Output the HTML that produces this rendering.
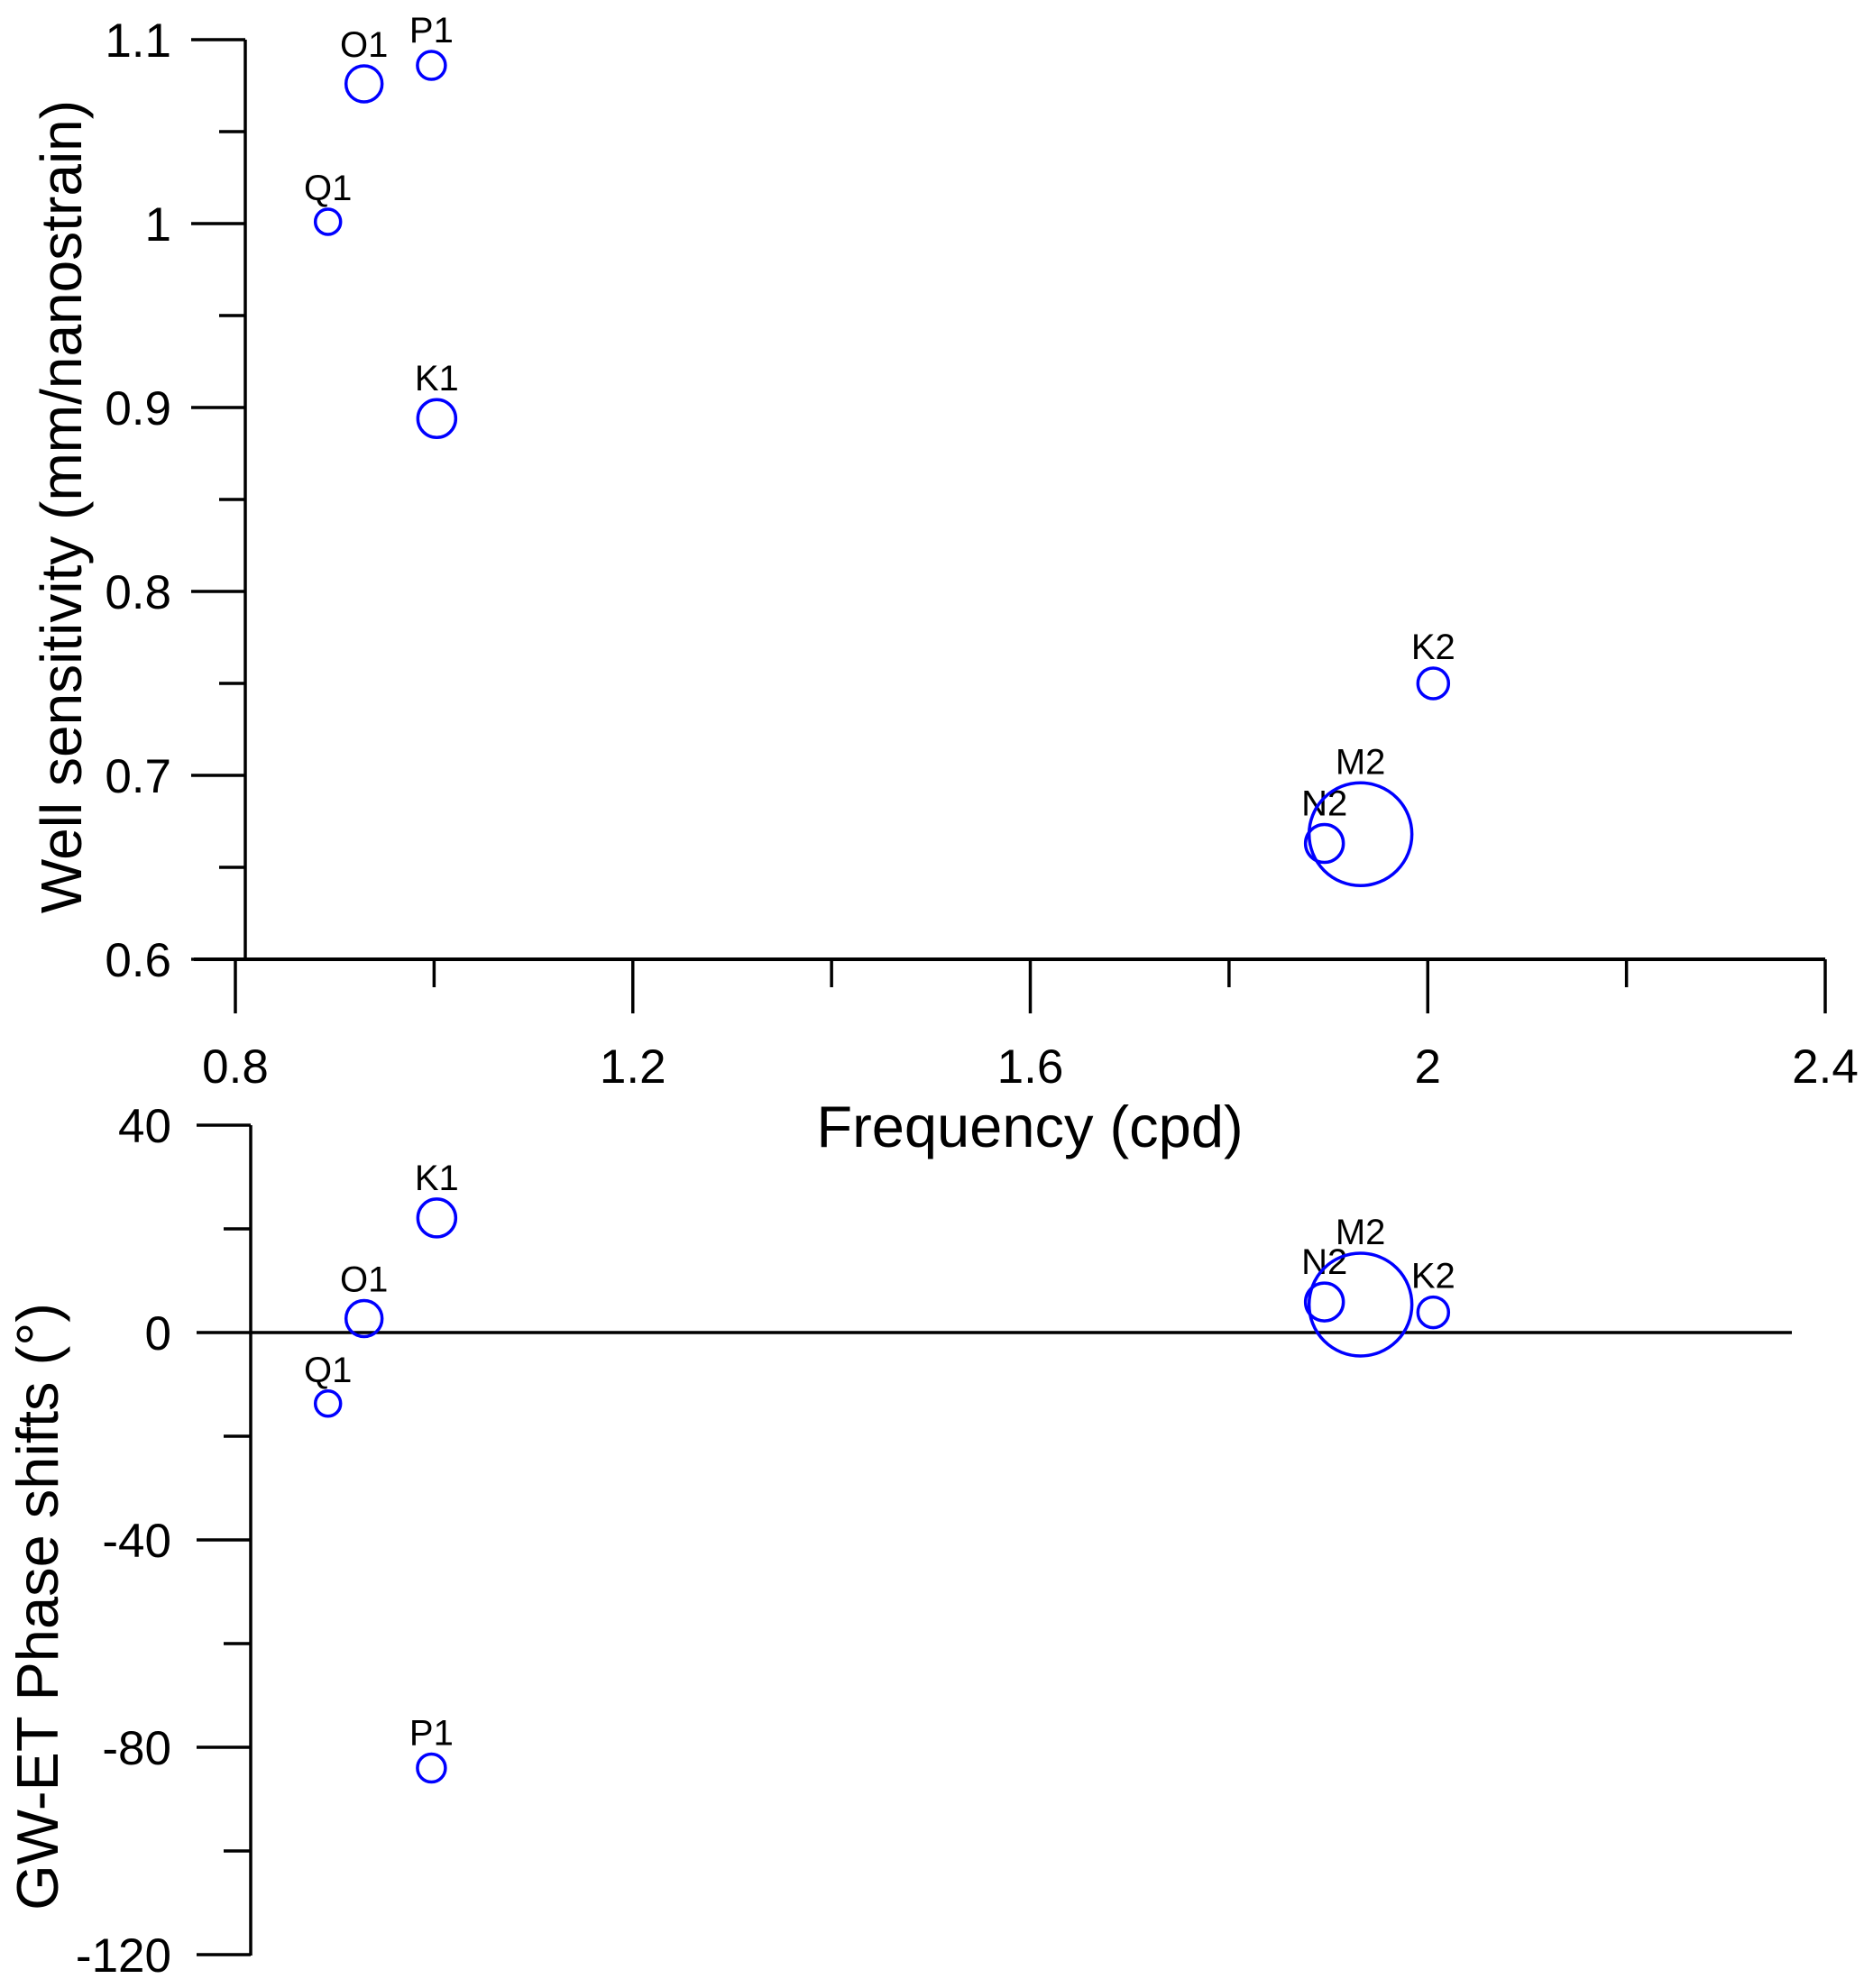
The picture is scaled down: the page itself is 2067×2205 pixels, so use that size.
<!DOCTYPE html>
<html><head><meta charset="utf-8"><style>
html,body{margin:0;padding:0;background:#fff;}
svg{display:block;font-family:"Liberation Sans",Arial,sans-serif;}
</style></head><body>
<svg id="chart" width="2067" height="2205" viewBox="0 0 2067 2205" xmlns="http://www.w3.org/2000/svg"></svg>
<script>
const constituents = ["Q1","O1","P1","K1","N2","M2","K2"];
const frequencies = [0.8932,0.9295,0.9973,1.0027,1.8960,1.9323,2.0055];
const sensitivity = [1.001,1.076,1.086,0.894,0.663,0.668,0.750];
const phaseShift = [-13.7,2.7,-84,22.1,5.9,5.4,3.9];
const radiusPx = [14,20,15.5,21,21,57,17];
const xTicks = [0.8,1.2,1.6,2.0,2.4];
const xTickLabels = ["0.8","1.2","1.6","2","2.4"];
const yTopTicks = [1.1,1.0,0.9,0.8,0.7,0.6];
const yTopTickLabels = ["1.1","1","0.9","0.8","0.7","0.6"];
const yBotTicks = [40,0,-40,-80,-120];
const yBotTickLabels = ["40","0","-40","-80","-120"];

const svg = document.getElementById('chart');
const NS = "http://www.w3.org/2000/svg";
function mk(tag, attrs, parent){const e=document.createElementNS(NS,tag);for(const k in attrs)e.setAttribute(k,attrs[k]);(parent||svg).appendChild(e);return e;}
const xS = v => 261 + (v-0.8)*(2024-261)/1.6;
const yT = v => 1064 - (v-0.6)*2040;
const yB = v => 1478 - v*5.75;
const SW = 3.5;

let g = mk('g',{});


mk('line',{x1:272,y1:44,x2:272,y2:1064,stroke:'#000','stroke-width':SW},g);
yTopTicks.forEach((v,i)=>{
  mk('line',{x1:212,y1:yT(v),x2:272,y2:yT(v),stroke:'#000','stroke-width':SW},g);
  const t=mk('text',{x:190,y:yT(v)+19,'text-anchor':'end','font-size':53},g);t.textContent=yTopTickLabels[i];
  if(i<yTopTicks.length-1) mk('line',{x1:243,y1:yT(v-0.05),x2:272,y2:yT(v-0.05),stroke:'#000','stroke-width':SW},g);
});
let tt = mk('text',{x:0,y:0,'text-anchor':'middle','font-size':64,transform:'translate(90,562) rotate(-90)'});


tt.textContent='Well sensitivity (mm/nanostrain)';

g = mk('g',{});


mk('line',{x1:215,y1:1064,x2:2024,y2:1064,stroke:'#000','stroke-width':4},g);
xTicks.forEach((v,i)=>{
  mk('line',{x1:xS(v),y1:1064,x2:xS(v),y2:1124,stroke:'#000','stroke-width':SW},g);
  const t=mk('text',{x:xS(v),y:1201,'text-anchor':'middle','font-size':53},g);t.textContent=xTickLabels[i];
  if(i<xTicks.length-1) mk('line',{x1:xS(v+0.2),y1:1064,x2:xS(v+0.2),y2:1095,stroke:'#000','stroke-width':SW},g);
});
tt = mk('text',{x:1142,y:1272,'text-anchor':'middle','font-size':65});


tt.textContent='Frequency (cpd)';

g = mk('g',{});


mk('line',{x1:278,y1:1248,x2:278,y2:2169,stroke:'#000','stroke-width':SW},g);
yBotTicks.forEach((v,i)=>{
  mk('line',{x1:218,y1:yB(v),x2:278,y2:yB(v),stroke:'#000','stroke-width':SW},g);
  const t=mk('text',{x:190,y:yB(v)+19,'text-anchor':'end','font-size':53},g);t.textContent=yBotTickLabels[i];
  if(i<yBotTicks.length-1) mk('line',{x1:248,y1:yB(v-20),x2:278,y2:yB(v-20),stroke:'#000','stroke-width':SW},g);
});
const zl = mk('line',{x1:278,y1:yB(0),x2:1987,y2:yB(0),stroke:'#000','stroke-width':SW});


tt = mk('text',{x:0,y:0,'text-anchor':'middle','font-size':65,transform:'translate(64,1782) rotate(-90)'});


tt.textContent='GW-ET Phase shifts (°)';

constituents.forEach((c,i)=>{
  const x=xS(frequencies[i]), r=radiusPx[i];
  [[yT(sensitivity[i]),'sensitivity'],[yB(phaseShift[i]),'phase']].forEach(([y,kind])=>{
    const ci=mk('circle',{cx:x,cy:y,r:r,fill:'none',stroke:'#0000ff','stroke-width':3.5});
    
    
    const t=mk('text',{x:x,y:y-r-10,'text-anchor':'middle','font-size':40});
    
    
    t.textContent=c;
  });
});
</script>
</body></html>
